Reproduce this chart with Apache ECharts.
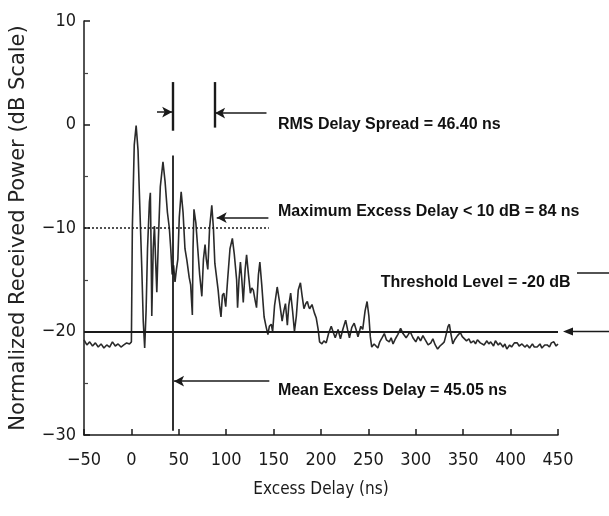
<!DOCTYPE html>
<html>
<head>
<meta charset="utf-8">
<script src="https://cdn.jsdelivr.net/npm/echarts@6/dist/echarts.min.js"></script>
<style>
  html, body { margin: 0; padding: 0; background: #fff; }
  #chart { width: 609px; height: 516px; }
</style>
</head>
<body>
<div id="chart"></div>
<script>
// excess delay (ns) and received power (dB)
var delayNs = [
  -50, -47, -44, -41, -38, -35, -32, -29, -26, -23, -20, -17, -14, -11, -8, -5, -2, 0,
  1, 3, 5, 7, 9, 11, 12.5, 14, 15.5, 17, 19, 20, 20.8, 21.5, 23, 24.3, 25.5, 26.8, 28.5, 30.5,
  33.3, 35.5, 38, 40, 41.5, 43, 44.5, 46, 47.5, 49,
  50.5, 52.5, 54.5, 56.5, 58.5, 61, 62.5, 64.3, 65, 66, 68, 70, 72, 74.3, 76, 77.7, 79, 80.6,
  82.5, 84.8, 86.5, 88, 89.5, 91.5, 93, 94.5, 96, 97.5, 99.5,
  101.5, 104, 106.5, 108.5, 111, 112, 113.5, 115, 116.5, 118, 120, 121.5, 123.5, 125.5, 127,
  128.6, 130.5, 132, 134, 135.5, 137.5, 140, 142, 144, 145.5, 147.5, 149, 151, 153.8, 156,
  159, 160.8, 162.5, 164.5, 166, 168, 170, 172, 174, 176, 178.3, 180, 182, 184, 185.6,
  187, 188, 190.5, 193, 195, 197, 198.5,
  201, 203, 205.5, 208, 210.8, 213, 215, 218, 220.5, 223, 226, 228, 230, 232.5, 235,
  237, 239, 242, 244, 246.5, 248.6, 250.5, 252, 253.5, 256, 258, 260, 262, 264.5, 266.8,
  269, 272, 274, 276, 278.5, 281, 284, 286.5, 289.8, 292, 294, 297, 300,
  302.5, 305, 307.5, 310, 313, 315.9, 318, 320.5, 323, 325.5, 328, 330, 332, 334, 335.4,
  337, 339, 341, 344, 347, 349, 351, 353.5, 356, 358, 361, 363, 365, 368, 370,
  372, 375, 377, 379, 382, 384, 387, 389, 392, 394, 396, 399, 401, 404, 407,
  409, 412, 415, 417.5, 420, 423, 425, 428, 431, 433, 436, 438.6, 441, 443, 445.6, 448, 450
];
var powerDb = [
  -20.8, -21.3, -21.0, -21.4, -21.1, -21.5, -21.2, -21.6, -21.3, -21.5, -21.0, -21.4, -21.2, -21.5, -21.3, -21.1, -21.2, -21.0,
  -10, -2, -0.1, -2.5, -8.3, -14, -19, -21.6, -18, -12, -7.5, -6.6, -12, -18.5, -12, -9.8, -13, -16.2, -11, -6,
  -3.6, -5.5, -8.5, -10, -12, -14.5, -13.6, -15.2, -14, -13,
  -9, -6.5, -8.5, -12, -13.1, -14.8, -15.5, -18.4, -12, -8.2, -9.5, -12, -14.5, -16.6, -13, -11.6, -13, -14,
  -10, -7.8, -10, -13.4, -14.5, -16, -17.5, -18.6, -16.5, -16.3, -17.6,
  -15, -12, -11, -12.5, -15, -17.7, -15, -13.3, -15, -17.2, -14, -12.6, -14.5, -16.3, -15.8,
  -16, -17, -17.7, -14.5, -13.3, -15.5, -18.6, -19.5, -20.3, -19.5, -19.3, -20, -17.5, -15.7, -17,
  -19, -18, -17.3, -19.4, -17.5, -16.3, -18, -20, -18.5, -16, -15.3, -16.5, -17.8, -17.3, -17.1,
  -17.6, -17.8, -17.4, -18.2, -18.7, -19.8, -21,
  -21.2, -20.9, -21.1, -20.2, -19.5, -20.1, -20.6, -19.8, -20.7, -19.8, -18.9, -19.8, -20.6, -19.6, -19.2,
  -19.8, -20.5, -19.5, -19.8, -18, -17.1, -18.5, -20.5, -21.5, -21.2, -21.4, -21.6, -21, -20.6, -20.2,
  -20.8, -21, -20.6, -21.2, -20.7, -20.3, -19.7, -20.2, -20.6, -20.3, -20, -20.6, -21,
  -20.5, -20.9, -20.4, -20.8, -21.3, -21.1, -20.7, -21.3, -21.7, -21.4, -21.2, -21, -20.3, -19.5, -19.3,
  -20.2, -21.2, -20.8, -20.4, -20.1, -20.5, -20.4, -20.9, -20.7, -21.1, -20.9, -21.2, -20.8, -21.1, -21,
  -21.3, -20.9, -21.2, -21, -21.4, -20.9, -21.3, -21.1, -21.5, -21.2, -21.7, -21.3, -21.5, -21.1, -21.1,
  -21.4, -21.2, -21.5, -21.3, -21.6, -21.2, -21.5, -21.5, -21.2, -21.6, -21.3, -21.3, -21.5, -21.1, -21, -21.4, -21.2
];
var xTicks = [-50, 0, 50, 100, 150, 200, 250, 300, 350, 400, 450];
var yTicks = [-30, -20, -10, 0, 10];

// reference levels and markers (positions as drawn)
var thresholdDb = -20;
var tenDbLevel = -10;
var tenDbEnd = 145;
var meanMarkX = 44;
var rmsMarkX = [44, 87.5];

var annotations = [
  { text: 'RMS Delay Spread = 46.40 ns', at: [154, 0] },
  { text: 'Maximum Excess Delay < 10 dB = 84 ns', at: [154, -8.4] },
  { text: 'Threshold Level = -20 dB', at: [262.5, -15.3] },
  { text: 'Mean Excess Delay = 45.05 ns', at: [154, -25.7] }
];

var chart = echarts.init(document.getElementById('chart'));
var ink = '#1a1a1a';
var narrow = "'Liberation Sans Narrow', 'DejaVu Sans Condensed', 'Liberation Sans', sans-serif";

function minus(v) { return String(v).replace('-', '\u2212'); }

function arrow(from, to) {
  return [
    { coord: from, symbol: 'none' },
    { coord: to, symbol: 'arrow', symbolSize: [8, 10] }
  ];
}
function seg(from, to, width, type) {
  return [
    { coord: from, symbol: 'none', lineStyle: { width: width || 1.5, type: type || 'solid' } },
    { coord: to, symbol: 'none' }
  ];
}

var profile = delayNs.map(function (x, i) { return [x, powerDb[i]]; });

var option = {
  animation: false,
  backgroundColor: '#fff',
  grid: { left: 82, right: 51, top: 21, bottom: 81 },
  xAxis: {
    type: 'value',
    min: xTicks[0], max: xTicks[xTicks.length - 1], interval: 50,
    name: 'Excess Delay (ns)',
    nameLocation: 'middle',
    nameGap: 46,
    nameTextStyle: { color: ink, fontSize: 17, fontFamily: narrow },
    axisLine: { onZero: false, lineStyle: { color: ink, width: 1.5 } },
    axisTick: { inside: true, length: 6, lineStyle: { color: ink, width: 1.5 } },
    axisLabel: { color: ink, fontSize: 18, fontFamily: narrow, margin: 16, formatter: minus },
    splitLine: { show: false }
  },
  yAxis: {
    type: 'value',
    min: yTicks[0], max: yTicks[yTicks.length - 1], interval: 10,
    name: 'Normalized Received Power (dB Scale)',
    nameLocation: 'middle',
    nameGap: 55,
    nameTextStyle: { color: '#222', fontSize: 21, fontFamily: 'DejaVu Sans' },
    axisLine: { show: true, onZero: false, lineStyle: { color: ink, width: 1.5 } },
    axisTick: { inside: true, length: 6, lineStyle: { color: ink, width: 1.5 } },
    minorTick: { show: true, splitNumber: 2, length: 4, lineStyle: { color: '#444', width: 1.2 } },
    axisLabel: { color: ink, fontSize: 18, fontFamily: narrow, margin: 8, formatter: minus },
    splitLine: { show: false }
  },
  series: [{
    type: 'line',
    data: profile,
    showSymbol: false,
    clip: false,
    lineStyle: { color: '#2a2a2a', width: 1.6 },
    markLine: {
      silent: true,
      symbol: ['none', 'none'],
      label: { show: false },
      emphasis: { disabled: true },
      lineStyle: { color: ink, width: 1.5, type: 'solid' },
      data: [
        seg([-50, thresholdDb], [450, thresholdDb], 1.8),
        seg([-50, tenDbLevel], [tenDbEnd, tenDbLevel], 1.6, [2, 2]),
        seg([meanMarkX, -3], [meanMarkX, -29.6], 1.8),
        seg([rmsMarkX[0], 4.1], [rmsMarkX[0], -0.6], 2.4),
        seg([rmsMarkX[1], 4.1], [rmsMarkX[1], -0.3], 2.4),
        arrow([27, 1.2], [43, 1.2]),
        arrow([142.5, 1.1], [88.3, 1.1]),
        arrow([144.5, -9], [90, -9]),
        arrow([145.5, -24.8], [45, -24.8])
      ]
    },
    markPoint: {
      silent: true,
      symbol: 'circle',
      symbolSize: 1,
      itemStyle: { color: 'rgba(0,0,0,0)' },
      label: {
        show: true, position: 'right', distance: 0,
        color: '#111', fontSize: 16, fontWeight: 'bold', fontFamily: "'Liberation Sans', Arial, sans-serif"
      },
      data: annotations.map(function (a) {
        return { coord: a.at, value: 0, label: { formatter: a.text } };
      })
    }
  }]
};
chart.setOption(option);

// threshold pointer and cut-off stroke sit outside the plot, right margin
var yThr = chart.convertToPixel({ gridIndex: 0 }, [450, thresholdDb])[1];
chart.setOption({
  graphic: [
    { type: 'line', silent: true, shape: { x1: 571, y1: yThr, x2: 609, y2: yThr }, style: { stroke: ink, lineWidth: 1.5 } },
    { type: 'polygon', silent: true, shape: { points: [[563, yThr], [573, yThr - 4], [573, yThr + 4]] }, style: { fill: ink } },
    { type: 'line', silent: true, shape: { x1: 577, y1: 273, x2: 609, y2: 273 }, style: { stroke: ink, lineWidth: 1.5 } }
  ]
});
</script>
</body>
</html>
